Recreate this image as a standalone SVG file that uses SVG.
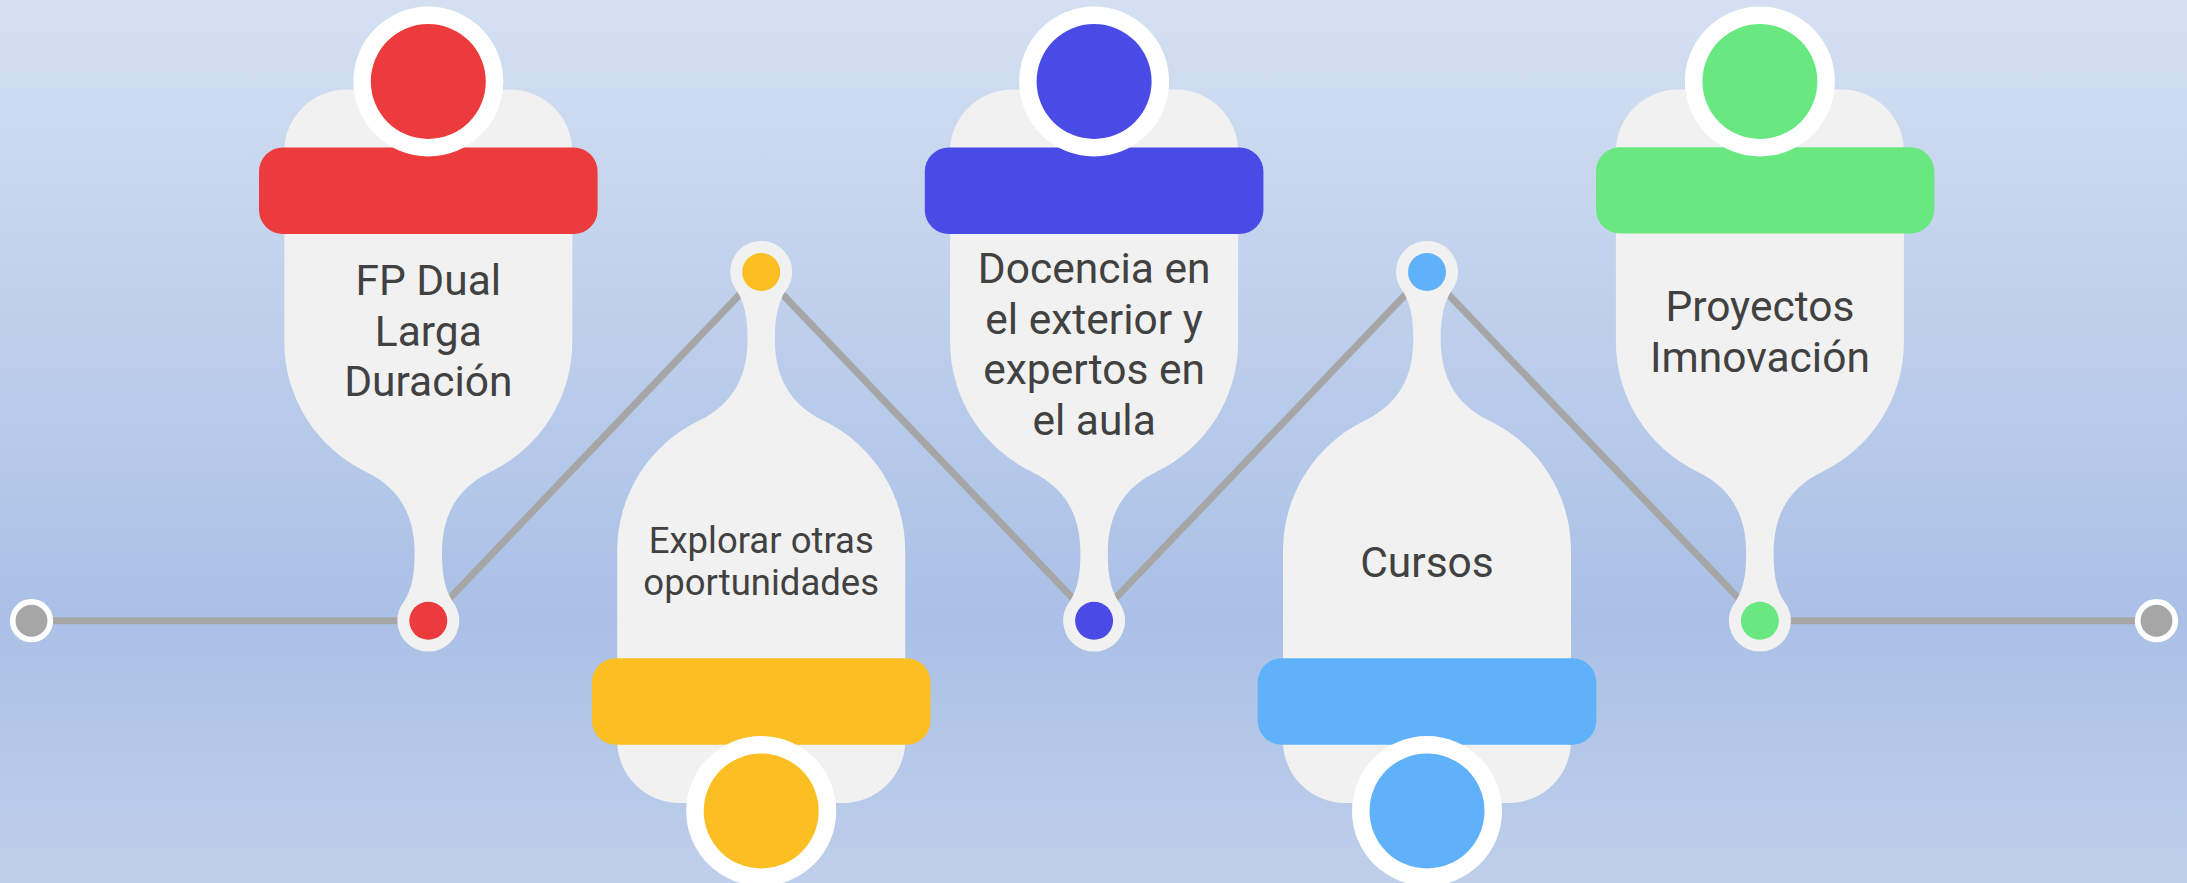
<svg xmlns="http://www.w3.org/2000/svg" xmlns:xlink="http://www.w3.org/1999/xlink" width="2187" height="883" viewBox="0 0 2187 883">
  <defs>
    <linearGradient id="bg" x1="0" y1="0" x2="0" y2="1">
      <stop offset="0" stop-color="#D4E0F2"/>
      <stop offset="0.7" stop-color="#AAC0E6"/>
      <stop offset="1" stop-color="#BFCFEB"/>
    </linearGradient>
    <path id="body" d="M -144,342 L -144,151.5 A 62 62 0 0 1 -82,89.5 L 82,89.5 A 62 62 0 0 1 144,151.5 L 144,342 A 144 144 0 0 1 62.5,471.7 C 26.5,489 13.7,518 13.7,553 C 13.7,576 17,590 24,601 A 31 31 0 1 1 -24,601 C -17,590 -13.7,576 -13.7,553 C -13.7,518 -26.5,489 -62.5,471.7 A 144 144 0 0 1 -144,342 Z"/>
  </defs>
  <style>
    .body { fill: #F1F1F1; }
    .ring { fill: #FFFFFF; }
    .conn { stroke: #A6A6A6; stroke-width: 7; fill: none; stroke-linecap: round; stroke-linejoin: round; }
    .end { fill: #A6A6A6; stroke: #FFFFFF; stroke-width: 5.7; }
    .lbl { font-family: Roboto, "Liberation Sans", sans-serif; fill: #414141; text-anchor: middle; }
    .big { font-size: 42.5px; }
    .small { font-size: 36.5px; }
    .red { fill: #EC3B3C; }
    .yellow { fill: #FBBF24; }
    .blue { fill: #4A4AE7; }
    .sky { fill: #5FB2FA; }
    .green { fill: #69E882; }
  </style>
  <rect x="0" y="0" width="2187" height="883" fill="url(#bg)"/>

  <g id="connectors">
    <line class="conn" x1="31.5" y1="620.7" x2="428.3" y2="620.7"/>
    <polyline class="conn" points="428.3,620.7 761.2,272 1094.1,620.7 1427,272 1759.9,620.7"/>
    <line class="conn" x1="1759.9" y1="620.7" x2="2156.5" y2="620.7"/>
    <circle class="end" cx="31.5" cy="620.7" r="18.8"/>
    <circle class="end" cx="2156.5" cy="620.7" r="18.8"/>
  </g>

  <g id="node-fp-dual">
    <use xlink:href="#body" href="#body" class="body" transform="translate(428.3,0)"/>
    <rect class="red" x="259" y="147.5" width="338.6" height="86.6" rx="24"/>
    <circle class="ring" cx="428.3" cy="81.5" r="75"/>
    <circle class="red" cx="428.3" cy="81.5" r="57.5"/>
    <circle class="red" cx="428.3" cy="620.7" r="19"/>
    <text class="lbl big" x="428.3" y="295">FP Dual</text>
    <text class="lbl big" x="428.3" y="345.5">Larga</text>
    <text class="lbl big" x="428.3" y="396">Duración</text>
  </g>

  <g id="node-explorar">
    <use xlink:href="#body" href="#body" class="body" transform="translate(761.2,892.5) scale(1,-1)"/>
    <rect class="yellow" x="591.9" y="658.2" width="338.6" height="86.6" rx="24"/>
    <circle class="ring" cx="761.2" cy="811" r="75"/>
    <circle class="yellow" cx="761.2" cy="811" r="57.5"/>
    <circle class="yellow" cx="761.2" cy="272" r="19"/>
    <text class="lbl small" x="761.2" y="553.3">Explorar otras</text>
    <text class="lbl small" x="761.2" y="595">oportunidades</text>
  </g>

  <g id="node-docencia">
    <use xlink:href="#body" href="#body" class="body" transform="translate(1094.1,0)"/>
    <rect class="blue" x="924.8" y="147.5" width="338.6" height="86.6" rx="24"/>
    <circle class="ring" cx="1094.1" cy="81.5" r="75"/>
    <circle class="blue" cx="1094.1" cy="81.5" r="57.5"/>
    <circle class="blue" cx="1094.1" cy="620.7" r="19"/>
    <text class="lbl big" x="1094.1" y="283.3">Docencia en</text>
    <text class="lbl big" x="1094.1" y="333.8">el exterior y</text>
    <text class="lbl big" x="1094.1" y="384.3">expertos en</text>
    <text class="lbl big" x="1094.1" y="434.8">el aula</text>
  </g>

  <g id="node-cursos">
    <use xlink:href="#body" href="#body" class="body" transform="translate(1427,892.5) scale(1,-1)"/>
    <rect class="sky" x="1257.7" y="658.2" width="338.6" height="86.6" rx="24"/>
    <circle class="ring" cx="1427" cy="811" r="75"/>
    <circle class="sky" cx="1427" cy="811" r="57.5"/>
    <circle class="sky" cx="1427" cy="272" r="19"/>
    <text class="lbl big" x="1427" y="576.7">Cursos</text>
  </g>

  <g id="node-proyectos">
    <use xlink:href="#body" href="#body" class="body" transform="translate(1759.9,0)"/>
    <rect class="green" x="1596" y="147.2" width="338.3" height="86.3" rx="24"/>
    <circle class="ring" cx="1759.9" cy="81.5" r="75"/>
    <circle class="green" cx="1759.9" cy="81.5" r="57.5"/>
    <circle class="green" cx="1759.9" cy="620.7" r="19"/>
    <text class="lbl big" x="1759.9" y="320.7">Proyectos</text>
    <text class="lbl big" x="1759.9" y="372">Imnovación</text>
  </g>
</svg>
